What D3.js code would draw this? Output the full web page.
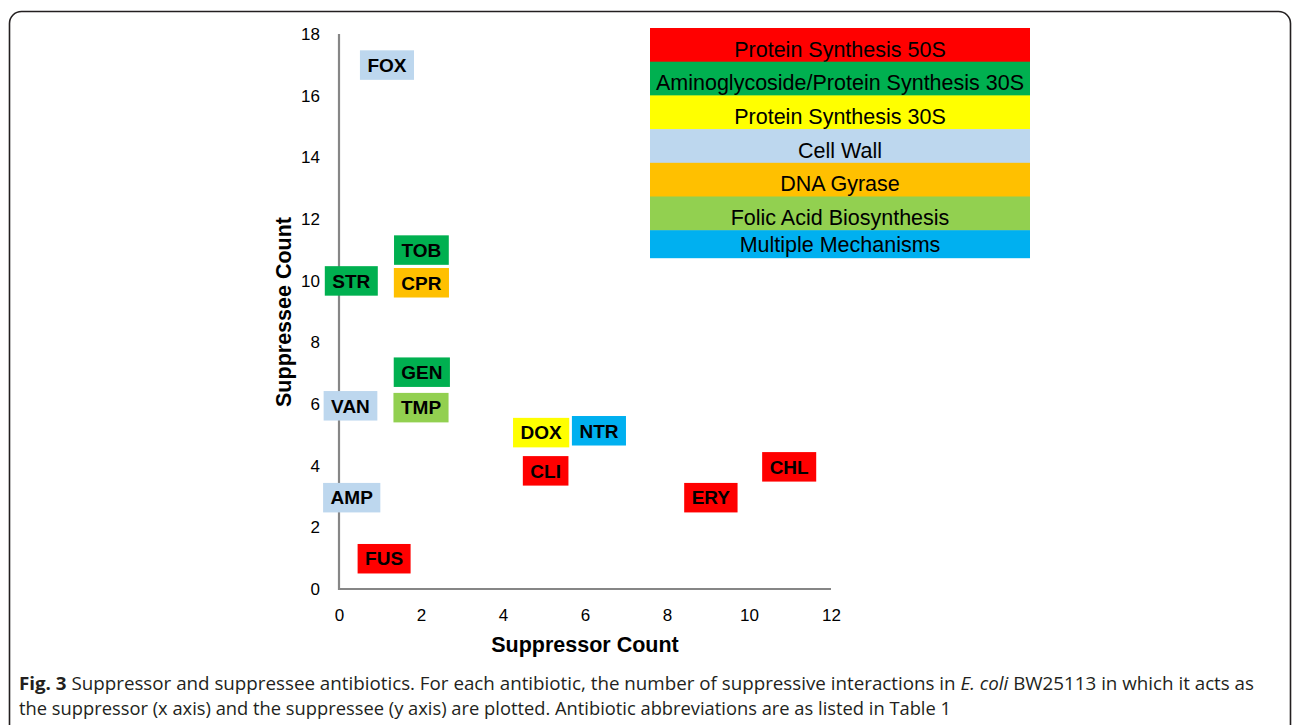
<!DOCTYPE html>
<html>
<head>
<meta charset="utf-8">
<script src="https://cdn.jsdelivr.net/npm/d3@7"></script>
<style>
  html, body { margin: 0; padding: 0; background: #fff; }
  svg { display: block; }
</style>
</head>
<body>
<svg id="chart" width="1292" height="725"></svg>
<script>
// ---- data ----
const antibiotics = ["FOX","STR","TOB","CPR","GEN","VAN","TMP","DOX","NTR","CLI","AMP","FUS","ERY","CHL"];
const suppressorCount = [1.17, 0.3, 2.01, 2.01, 2.02, 0.28, 2.0, 4.93, 6.34, 5.04, 0.31, 1.1, 9.07, 10.98];
const suppresseeCount = [17.0, 10.0, 11.0, 9.94, 7.04, 5.95, 5.89, 5.08, 5.14, 3.84, 2.97, 0.99, 2.97, 3.97];
const mechanism = ["Cell Wall","Aminoglycoside/Protein Synthesis 30S","Aminoglycoside/Protein Synthesis 30S","DNA Gyrase",
  "Aminoglycoside/Protein Synthesis 30S","Cell Wall","Folic Acid Biosynthesis","Protein Synthesis 30S","Multiple Mechanisms",
  "Protein Synthesis 50S","Cell Wall","Protein Synthesis 50S","Protein Synthesis 50S","Protein Synthesis 50S"];
const mechanismNames = ["Protein Synthesis 50S","Aminoglycoside/Protein Synthesis 30S","Protein Synthesis 30S","Cell Wall","DNA Gyrase","Folic Acid Biosynthesis","Multiple Mechanisms"];
const mechanismColors = ["#FF0000","#00B050","#FFFF00","#BDD7EE","#FFC000","#92D050","#00B0F0"];
const xTicks = [0, 2, 4, 6, 8, 10, 12];
const yTicks = [0, 2, 4, 6, 8, 10, 12, 14, 16, 18];
const xTitle = "Suppressor Count";
const yTitle = "Suppressee Count";

const svg = d3.select("#chart");
const ARIAL = "'Liberation Sans', Arial, sans-serif";

// frame
svg.append("rect")
  .attr("x", 9.5).attr("y", 11.5).attr("width", 1281).attr("height", 760)
  .attr("rx", 12).attr("ry", 12)
  .attr("fill", "none").attr("stroke", "#231f20").attr("stroke-width", 1.6);

const x = d3.scaleLinear().domain([0, 12]).range([339, 831]);
const y = d3.scaleLinear().domain([0, 18]).range([589, 34]);

const color = d3.scaleOrdinal().domain(mechanismNames).range(mechanismColors);

// axes
const xAxis = d3.axisBottom(x).tickValues(xTicks).tickSize(0).tickPadding(20);
const yAxis = d3.axisLeft(y).tickValues(yTicks).tickSize(0).tickPadding(19);

const gx = svg.append("g").attr("transform", `translate(0,${y(0)})`).call(xAxis);
const gy = svg.append("g").attr("transform", `translate(${x(0)},0)`).call(yAxis);
[gx, gy].forEach(g => {
  g.select(".domain").attr("stroke", "#868686").attr("stroke-width", 2.2);
  g.selectAll("text").attr("fill", "#000").style("font-family", ARIAL).style("font-size", "17px");
});
gx.select(".domain").attr("d", `M${x(0)-1},0H${x(12)}`);
gy.select(".domain").attr("d", `M0,${y(18)}V${y(0)+1}`);

// axis titles
svg.append("text").attr("x", 585).attr("y", 652).attr("text-anchor", "middle")
  .style("font-family", ARIAL).style("font-weight", "bold").style("font-size", "21.5px")
  .text(xTitle);
svg.append("text").attr("transform", "translate(291,312) rotate(-90)").attr("text-anchor", "middle")
  .style("font-family", ARIAL).style("font-weight", "bold").style("font-size", "21.5px")
  .text(yTitle);

// data labels as boxes
const pts = antibiotics.map((name, i) => ({ name, x: suppressorCount[i], y: suppresseeCount[i], m: mechanism[i] }));
const lab = svg.append("g").selectAll("g").data(pts).join("g")
  .attr("transform", d => `translate(${x(d.x)},${y(d.y)})`);
lab.append("rect").attr("class", "bg");
lab.append("text")
  .attr("text-anchor", "middle").attr("y", 7)
  .style("font-family", ARIAL).style("font-weight", "bold").style("font-size", "19px")
  .attr("fill", "#000")
  .text(d => d.name);
lab.each(function(d) {
  const g = d3.select(this);
  const w = g.select("text").node().getComputedTextLength() + 15;
  g.select("rect").attr("x", -w / 2).attr("y", -14.5).attr("width", w).attr("height", 29.5).attr("fill", color(d.m));
});

// legend
const legTop = 28, legX = 650, legW = 380, rowH = 33.7, lastH = 28;
const leg = svg.append("g");
mechanismNames.forEach((name, i) => {
  const last = i === mechanismNames.length - 1;
  const top = legTop + i * rowH;
  const h = last ? lastH : rowH;
  leg.append("rect").attr("x", legX).attr("y", top).attr("width", legW).attr("height", h + (last ? 0 : 0.5))
    .attr("fill", color(name));
  const cy = last ? top + h / 2 : top + 21;
  leg.append("text").attr("x", legX + legW / 2).attr("y", cy + 7.6).attr("text-anchor", "middle")
    .style("font-family", ARIAL).style("font-size", "21.5px").attr("fill", "#000")
    .text(name);
});

// caption
const cap = svg.append("g").style("font-family", "'Open Sans', 'Noto Sans', sans-serif").style("font-size", "18.5px").attr("fill", "#231f20");
const l1 = cap.append("text").attr("x", 19).attr("y", 690);
l1.append("tspan").style("font-weight", "bold").text("Fig. 3");
l1.append("tspan").text(" Suppressor and suppressee antibiotics. For each antibiotic, the number of suppressive interactions in ");
l1.append("tspan").style("font-style", "italic").text("E. coli");
l1.append("tspan").text(" BW25113 in which it acts as");
const l2 = cap.append("text").attr("x", 19).attr("y", 715);
l2.text("the suppressor (x axis) and the suppressee (y axis) are plotted. Antibiotic abbreviations are as listed in Table 1");
// fit caption widths to reference
[[l1, 1235], [l2, 932]].forEach(([t, w]) => t.attr("textLength", w).attr("lengthAdjust", "spacingAndGlyphs"));
</script>
</body>
</html>
